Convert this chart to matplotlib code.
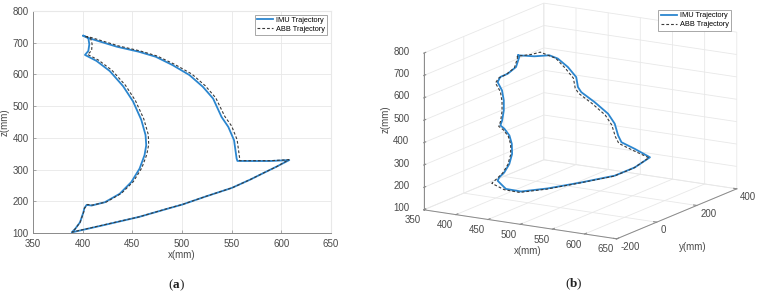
import matplotlib
matplotlib.use("Agg")
import matplotlib.pyplot as plt
from mpl_toolkits.mplot3d import Axes3D  # noqa

plt.rcParams['font.family'] = ['Liberation Sans', 'DejaVu Sans']
plt.rcParams['mathtext.fontset'] = 'custom'
plt.rcParams['mathtext.bf'] = 'Liberation Serif:bold'
plt.rcParams['mathtext.rm'] = 'Liberation Serif'
plt.rcParams['axes.unicode_minus'] = False

# ---------------- data: panel (a), x-z plane ----------------
x_imu = [400.7, 405.7, 406.7, 405.7, 402.3, 414, 427.3, 440.7, 450.7, 459, 463.3, 464,
         462.3, 457.3, 449, 437.3, 422.3, 409, 404, 401.7, 400.7, 397.3, 392.3, 389,
         420, 456.5, 487, 500, 524.5, 550, 568.7, 582.3, 595, 608, 589, 570, 555.8,
         555, 552.4, 546.6, 539.8, 531.3, 521, 507.5, 490.5, 473.5, 456.5, 434.3, 406.7, 400.7]
z_imu = [722, 714.5, 695, 674, 661.5, 642.5, 610.6, 563, 515, 457, 409, 377,
         345.6, 303, 260.8, 223.7, 197, 186.6, 188.7, 178, 165, 133.6, 112.4, 102,
         124, 150.5, 178, 189.4, 215.8, 242, 268.4, 289.5, 309, 330, 327, 327, 327.2,
         334.6, 392.5, 434.6, 466, 524, 561, 598, 629.5, 655.8, 671.6, 687.5, 714, 722]

x_abb = [403, 408, 409.5, 409, 405, 416, 429.5, 443, 453, 461.5, 466, 466.5,
         464.5, 459.5, 451, 439, 424, 410, 405, 402, 401, 397.5, 392.5, 389.5,
         420.5, 457, 487.5, 500.5, 525, 550.5, 569, 582.5, 595.5, 607.5, 589, 570, 558,
         558, 555.5, 550, 543, 534, 523.5, 510, 492.5, 475, 458, 436, 409, 403]
z_abb = [720, 714, 696, 675, 663, 645, 613, 566, 518, 460, 411, 379,
         347, 305, 262, 225, 198, 188, 190, 179, 166, 134, 113, 103,
         125, 151, 179, 190, 216.5, 242.5, 269, 290, 309.5, 331, 328, 328, 328,
         336, 394, 437, 468, 526, 564, 601, 632, 658, 674, 690, 716, 720]

# ---------------- data: panel (b), 3-D ----------------
x3_imu = [400, 404, 406, 406, 405, 404, 425, 440, 450, 458, 462, 462, 460, 455, 445, 430,
          415, 400, 395, 389, 415, 455, 505, 555, 585, 608, 580, 560, 555, 545, 535, 520,
          505, 495, 480, 460, 445, 430, 415, 400]
y3_imu = [111.5, 103.5, 81, 39.5, 5.5, -4.5, -50, -89.5, -121.5, -155.5, -177, -157, -125.5,
          -97.5, -64, -29.5, -6.5, 16.5, 24.5, 85, 77, 82.5, 89, 95.5, 99.5, 101, 115.5,
          113, 112.5, 127.5, 126.5, 107.5, 89, 104.5, 144, 166.5, 164.5, 170.5, 143.5, 111.5]
z3_imu = [696, 693, 657.6, 643, 640.6, 621, 610, 587, 558, 529, 517, 494.5, 452, 402,
          340, 276, 223, 185.7, 165.7, 104, 106.7, 135.7, 181.7, 231, 279.5, 334, 354,
          376, 404, 447, 487.6, 540, 585, 597.5, 621, 649, 681, 687, 686, 696]

x3_abb = [400, 403, 405, 405, 404, 403, 424, 439, 449, 457, 461, 461, 459, 454, 444, 429,
          414, 399, 392, 388, 414, 454, 504, 554, 584, 607, 579, 559, 554, 544, 534, 519,
          504, 494, 479, 459, 444, 430, 415, 400]
y3_abb = [106, 98, 76, 34, 0, -12, -55, -95, -127, -160, -182, -160, -128, -100, -68, -34,
          -12, 8, 5, 80, 72, 80, 87, 93, 97, 99, 106, 103, 102, 116, 115, 97, 79, 94, 133,
          156, 158, 125, 128, 106]
z3_abb = [694, 690, 655, 641, 637, 619, 606, 584, 556, 527, 514, 491, 449, 400, 338, 274,
          221, 183, 160, 102, 104, 133, 180, 229, 277, 332, 352, 374, 402, 445, 486, 538,
          583, 596, 620, 648, 684, 718, 700, 694]

xticks = [350, 400, 450, 500, 550, 600, 650]
zticks = [100, 200, 300, 400, 500, 600, 700, 800]
yticks3 = [-200, 0, 200, 400]

imu_color = '#2b86cf'
abb_color = '#3a3a3a'
txt = '#4a4a4a'
gridc = '#e8e8e8'

fig = plt.figure(figsize=(7.59, 2.98), dpi=100)

# ---------------- panel (a) ----------------
ax = fig.add_axes([33 / 759, 65 / 298, 298 / 759, 222 / 298])
ax.plot(x_imu, z_imu, color=imu_color, lw=1.3, label='IMU Trajectory')
ax.plot(x_abb, z_abb, color=abb_color, lw=0.8, ls=(0, (2.5, 1.8)), label='ABB Trajectory')
ax.set_xlim(350, 650)
ax.set_ylim(100, 800)
ax.set_xticks(xticks)
ax.set_yticks(zticks)
ax.grid(True, color=gridc, lw=0.6)
ax.set_axisbelow(True)
for s in ['top', 'right']:
    ax.spines[s].set_color(gridc)
for s in ['left', 'bottom']:
    ax.spines[s].set_color('#8a8a8a')
    ax.spines[s].set_linewidth(0.7)
ax.tick_params(direction='in', length=2, width=0.5, colors='#8a8a8a', labelsize=7,
               labelcolor=txt)
ax.tick_params(axis='x', pad=4)
ax.tick_params(axis='y', pad=3)
ax.set_xlabel('x(mm)', fontsize=7, color=txt, labelpad=1)
ax.set_ylabel('z(mm)', fontsize=7, color=txt, labelpad=2)
leg = ax.legend(loc='upper right', fontsize=5.3, frameon=True, fancybox=False,
                edgecolor='#9a9a9a', framealpha=1, handlelength=2.2, borderpad=0.3,
                labelspacing=0.25, handletextpad=0.4, borderaxespad=0.5)
leg.get_frame().set_linewidth(0.6)

fig.text(176 / 759, 1 - 285 / 298, r'($\mathbf{a}$)', ha='center', va='center',
         fontsize=9.5, family='Liberation Serif', color='#222222')

# ---------------- panel (b) ----------------
ax3 = fig.add_axes([0.50 + 7 / 759, 24 / 298, 0.50, 1.0], projection='3d')
ax3.set_proj_type('ortho')
ax3.plot(x3_imu, y3_imu, z3_imu, color=imu_color, lw=1.3, label='IMU Trajectory')
ax3.plot(x3_abb, y3_abb, z3_abb, color=abb_color, lw=0.8, ls=(0, (2.5, 1.8)),
         label='ABB Trajectory')
ax3.set_xlim(350, 650)
ax3.set_ylim(-200, 400)
ax3.set_zlim(100, 800)
ax3.set_xticks(xticks)
ax3.set_yticks(yticks3)
ax3.set_zticks(zticks)
ax3.view_init(elev=14.5, azim=-59)
ax3.set_box_aspect((224, 232, 161), zoom=1.18)
for axis in (ax3.xaxis, ax3.yaxis, ax3.zaxis):
    axis.set_pane_color((1, 1, 1, 0))
    axis.pane.set_edgecolor((1, 1, 1, 0))
    axis._axinfo['grid']['color'] = gridc
    axis._axinfo['grid']['linewidth'] = 0.6
    axis._axinfo['tick']['inward_factor'] = 0.0
    axis._axinfo['tick']['outward_factor'] = 0.2
    axis.line.set_color('#8a8a8a')
    axis.line.set_linewidth(0.7)
ax3.zaxis.set_ticks_position('lower')
ax3.tick_params(labelsize=7, labelcolor=txt, colors='#8a8a8a', pad=0)
ax3.tick_params(axis='x', pad=-5)
ax3.tick_params(axis='y', pad=-6)
for lab in ax3.get_xticklabels():
    lab.set_horizontalalignment('right')
for lab in ax3.get_yticklabels():
    lab.set_horizontalalignment('left')
for lab in ax3.get_zticklabels():
    lab.set_verticalalignment('baseline')
leg3 = ax3.legend(loc='upper right', fontsize=5.3, frameon=True, fancybox=False,
                  edgecolor='#9a9a9a', framealpha=1, handlelength=2.2, borderpad=0.3,
                  labelspacing=0.25, handletextpad=0.4,
                  bbox_to_anchor=(731 / 759, 1 - 10 / 298), bbox_transform=fig.transFigure,
                  borderaxespad=0)
leg3.get_frame().set_linewidth(0.6)

# 3-D axis titles placed where the reference shows them
fig.text(528 / 759, 1 - 251 / 298, 'x(mm)', ha='center', va='center', fontsize=7, color=txt)
fig.text(693 / 759, 1 - 247 / 298, 'y(mm)', ha='center', va='center', fontsize=7, color=txt)
fig.text(386 / 759, 1 - 119 / 298, 'z(mm)', ha='center', va='center', fontsize=7, color=txt,
         rotation=90)

fig.text(574 / 759, 1 - 284 / 298, r'($\mathbf{b}$)', ha='center', va='center',
         fontsize=9.5, family='Liberation Serif', color='#222222')

fig.savefig('out.png', dpi=100)
